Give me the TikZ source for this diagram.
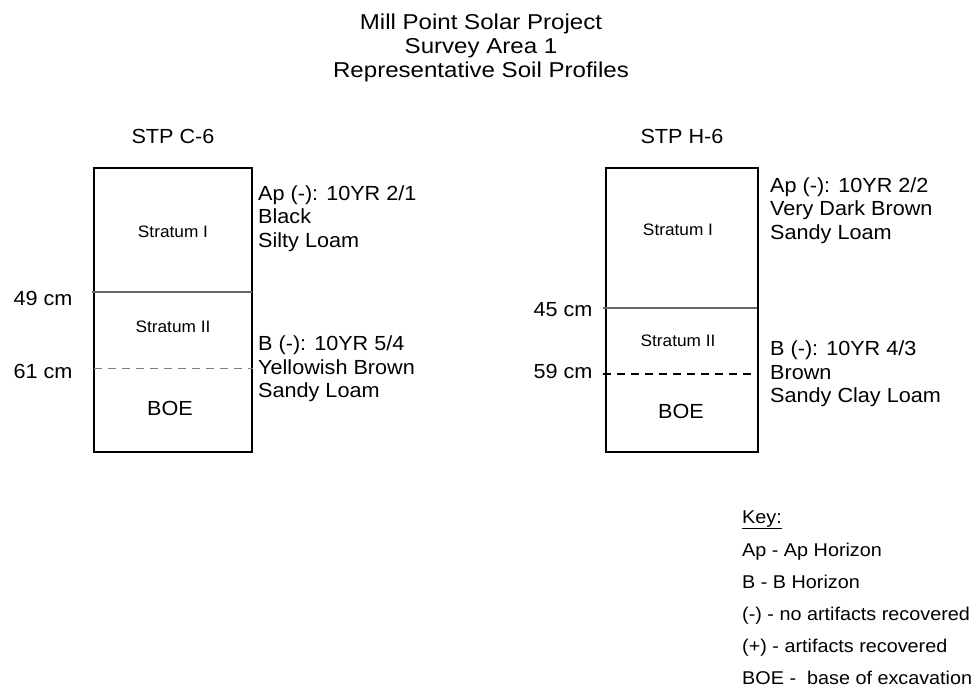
\documentclass[tikz,border=0pt]{standalone}
\usepackage{fontspec}
\setmainfont{Liberation Sans}
\newfontfamily\titlefont[FakeStretch=1.12]{Liberation Sans}
\newfontfamily\labelfont[FakeStretch=1.06]{Liberation Sans}
\newfontfamily\keyfont[FakeStretch=1.07]{Liberation Sans}
\newfontfamily\stratfont[FakeStretch=1.04]{Liberation Sans}
\usepackage{tikz}

\tikzset{
  profile/.style={line width=2pt},
  horizon/.style={line width=1.5pt, draw=black!60},
  boundary/.style={line width=1.5pt, dash pattern=on 8pt off 6pt},
  title/.style={font=\titlefont\fontsize{21.5}{24}\selectfont, align=center, inner sep=0pt},
  lab/.style={font=\labelfont\fontsize{20.4}{23.7}\selectfont, inner sep=0pt},
  desc/.style={lab, align=left, anchor=north west},
  strat/.style={font=\stratfont\fontsize{16.6}{19}\selectfont, inner sep=0pt},
  keytext/.style={font=\keyfont\fontsize{18.5}{21}\selectfont, inner sep=0pt, anchor=base west}
}

\begin{document}
\begin{tikzpicture}[x=1pt, y=-1pt]
  \useasboundingbox[fill=white] (0,0) rectangle (977,690);

  \node[title] (title) at (481,47.5) {Mill Point Solar Project\\Survey Area 1\\Representative Soil Profiles};

  % STP C-6
  \node[lab] (stpC) at (173,136.5) {STP C-6};
  \draw[profile] (94,168) rectangle (252,452);
  \draw[horizon] (92,292) -- (252,292);
  \draw[boundary, draw=black!50] (94,368.5) -- (253,368.5);
  \node[lab] (depthCa) at (43,298) {49 cm};
  \node[lab] (depthCb) at (43,371) {61 cm};
  \node[strat] (stratCa) at (173,232) {Stratum I};
  \node[strat] (stratCb) at (173,327) {Stratum II};
  \node[lab] (boeC) at (170,408) {BOE};
  \node[desc] (apC) at (258,185.3) {Ap (-): 10YR 2/1\\Black\\Silty Loam};
  \node[desc] (bC) at (258,335.5) {B (-): 10YR 5/4\\Yellowish Brown\\Sandy Loam};

  % STP H-6
  \node[lab] (stpH) at (682,136.5) {STP H-6};
  \draw[profile] (606,168) rectangle (758,452);
  \draw[horizon] (603,308) -- (757,308);
  \draw[boundary] (603,374) -- (752,374);
  \node[lab] (depthHa) at (563,310) {45 cm};
  \node[lab] (depthHb) at (563,371) {59 cm};
  \node[strat] (stratHa) at (678,230) {Stratum I};
  \node[strat] (stratHb) at (678,341) {Stratum II};
  \node[lab] (boeH) at (681,411) {BOE};
  \node[desc] (apH) at (770,177.3) {Ap (-): 10YR 2/2\\Very Dark Brown\\Sandy Loam};
  \node[desc] (bH) at (770,340.5) {B (-): 10YR 4/3\\Brown\\Sandy Clay Loam};

  % key
  \node[keytext] (key) at (742,523) {\underline{Key:}};
  \node[keytext] (keyAp) at (742,556) {Ap - Ap Horizon};
  \node[keytext] (keyB) at (742,588) {B - B Horizon};
  \node[keytext] (keyNeg) at (742,620) {(-) - no artifacts recovered};
  \node[keytext] (keyPos) at (742,652) {(+) - artifacts recovered};
  \node[keytext] (keyBoe) at (742,684) {BOE - \ base of excavation};
\end{tikzpicture}
\end{document}
